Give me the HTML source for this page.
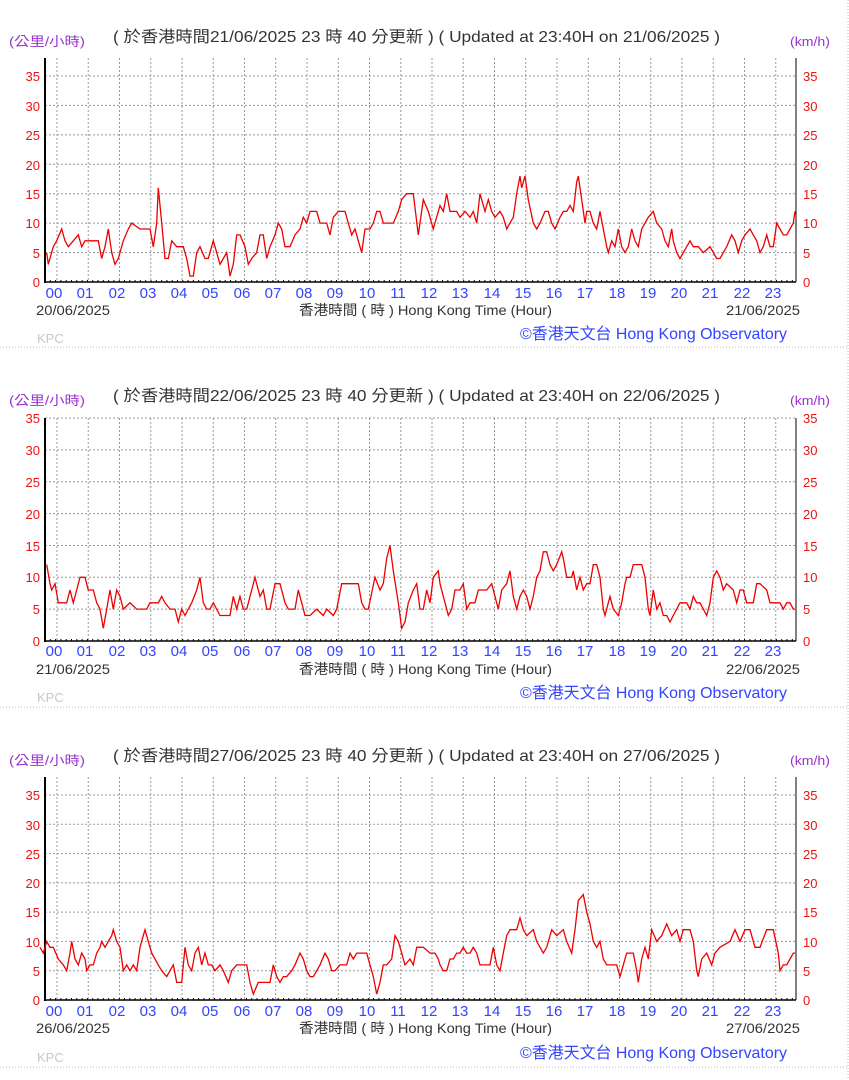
<!DOCTYPE html>
<html><head><meta charset="utf-8"><style>
html,body{margin:0;padding:0;background:#fff;width:849px;height:1080px;overflow:hidden}
svg{position:absolute;left:0;top:0}
text{font-family:"Liberation Sans","Noto Sans CJK TC",sans-serif}
.t{font-size:16px;fill:#333}
.u{font-size:13px;fill:#9933cc}
.yl{font-size:13px;fill:#ee1111}
.hl{font-size:15px;fill:#3344ff}
.d{font-size:14px;fill:#333}
.o{font-size:16px;fill:#3344ff}
.k{font-size:13px;fill:#c8c8c8}
</style></head><body>
<svg id="s" width="849" height="1080" xmlns="http://www.w3.org/2000/svg">
<g id="g"></g>
<!-- Panel 1 -->
<text class="u" x="9" y="46" textLength="76" lengthAdjust="spacingAndGlyphs">(公里/小時)</text>
<text class="t" x="113" y="42" textLength="607" lengthAdjust="spacingAndGlyphs">( 於香港時間21/06/2025 23 時 40 分更新 ) ( Updated at 23:40H on 21/06/2025 )</text>
<text class="u" x="790" y="46" textLength="40" lengthAdjust="spacingAndGlyphs">(km/h)</text>
<g class="yl" text-anchor="end"><text x="40" y="287">0</text><text x="40" y="258">5</text><text x="40" y="228">10</text><text x="40" y="199">15</text><text x="40" y="170">20</text><text x="40" y="140">25</text><text x="40" y="111">30</text><text x="40" y="81">35</text></g>
<g class="yl"><text x="803" y="287">0</text><text x="803" y="258">5</text><text x="803" y="228">10</text><text x="803" y="199">15</text><text x="803" y="170">20</text><text x="803" y="140">25</text><text x="803" y="111">30</text><text x="803" y="81">35</text></g>
<g class="hl" text-anchor="middle"><text x="54" y="298">00</text><text x="85" y="298">01</text><text x="117" y="298">02</text><text x="148" y="298">03</text><text x="179" y="298">04</text><text x="210" y="298">05</text><text x="242" y="298">06</text><text x="273" y="298">07</text><text x="304" y="298">08</text><text x="335" y="298">09</text><text x="367" y="298">10</text><text x="398" y="298">11</text><text x="429" y="298">12</text><text x="460" y="298">13</text><text x="492" y="298">14</text><text x="523" y="298">15</text><text x="554" y="298">16</text><text x="585" y="298">17</text><text x="617" y="298">18</text><text x="648" y="298">19</text><text x="679" y="298">20</text><text x="710" y="298">21</text><text x="742" y="298">22</text><text x="773" y="298">23</text></g>
<text class="d" x="36" y="315" textLength="74" lengthAdjust="spacingAndGlyphs">20/06/2025</text>
<text class="d" x="299" y="315" textLength="253" lengthAdjust="spacingAndGlyphs">香港時間 ( 時 ) Hong Kong Time (Hour)</text>
<text class="d" x="726" y="315" textLength="74" lengthAdjust="spacingAndGlyphs">21/06/2025</text>
<text class="o" x="520" y="339" textLength="267" lengthAdjust="spacingAndGlyphs">©香港天文台 Hong Kong Observatory</text>
<text class="k" x="37" y="343">KPC</text>
<!-- Panel 2 -->
<text class="u" x="9" y="405" textLength="76" lengthAdjust="spacingAndGlyphs">(公里/小時)</text>
<text class="t" x="113" y="401" textLength="607" lengthAdjust="spacingAndGlyphs">( 於香港時間22/06/2025 23 時 40 分更新 ) ( Updated at 23:40H on 22/06/2025 )</text>
<text class="u" x="790" y="405" textLength="40" lengthAdjust="spacingAndGlyphs">(km/h)</text>
<g class="yl" text-anchor="end"><text x="40" y="646">0</text><text x="40" y="614">5</text><text x="40" y="582">10</text><text x="40" y="551">15</text><text x="40" y="519">20</text><text x="40" y="487">25</text><text x="40" y="455">30</text><text x="40" y="423">35</text></g>
<g class="yl"><text x="803" y="646">0</text><text x="803" y="614">5</text><text x="803" y="582">10</text><text x="803" y="551">15</text><text x="803" y="519">20</text><text x="803" y="487">25</text><text x="803" y="455">30</text><text x="803" y="423">35</text></g>
<g class="hl" text-anchor="middle"><text x="54" y="656">00</text><text x="85" y="656">01</text><text x="117" y="656">02</text><text x="148" y="656">03</text><text x="179" y="656">04</text><text x="210" y="656">05</text><text x="242" y="656">06</text><text x="273" y="656">07</text><text x="304" y="656">08</text><text x="335" y="656">09</text><text x="367" y="656">10</text><text x="398" y="656">11</text><text x="429" y="656">12</text><text x="460" y="656">13</text><text x="492" y="656">14</text><text x="523" y="656">15</text><text x="554" y="656">16</text><text x="585" y="656">17</text><text x="617" y="656">18</text><text x="648" y="656">19</text><text x="679" y="656">20</text><text x="710" y="656">21</text><text x="742" y="656">22</text><text x="773" y="656">23</text></g>
<text class="d" x="36" y="674" textLength="74" lengthAdjust="spacingAndGlyphs">21/06/2025</text>
<text class="d" x="299" y="674" textLength="253" lengthAdjust="spacingAndGlyphs">香港時間 ( 時 ) Hong Kong Time (Hour)</text>
<text class="d" x="726" y="674" textLength="74" lengthAdjust="spacingAndGlyphs">22/06/2025</text>
<text class="o" x="520" y="698" textLength="267" lengthAdjust="spacingAndGlyphs">©香港天文台 Hong Kong Observatory</text>
<text class="k" x="37" y="702">KPC</text>
<!-- Panel 3 -->
<text class="u" x="9" y="765" textLength="76" lengthAdjust="spacingAndGlyphs">(公里/小時)</text>
<text class="t" x="113" y="761" textLength="607" lengthAdjust="spacingAndGlyphs">( 於香港時間27/06/2025 23 時 40 分更新 ) ( Updated at 23:40H on 27/06/2025 )</text>
<text class="u" x="790" y="765" textLength="40" lengthAdjust="spacingAndGlyphs">(km/h)</text>
<g class="yl" text-anchor="end"><text x="40" y="1005">0</text><text x="40" y="976">5</text><text x="40" y="947">10</text><text x="40" y="917">15</text><text x="40" y="888">20</text><text x="40" y="859">25</text><text x="40" y="830">30</text><text x="40" y="800">35</text></g>
<g class="yl"><text x="803" y="1005">0</text><text x="803" y="976">5</text><text x="803" y="947">10</text><text x="803" y="917">15</text><text x="803" y="888">20</text><text x="803" y="859">25</text><text x="803" y="830">30</text><text x="803" y="800">35</text></g>
<g class="hl" text-anchor="middle"><text x="54" y="1016">00</text><text x="85" y="1016">01</text><text x="117" y="1016">02</text><text x="148" y="1016">03</text><text x="179" y="1016">04</text><text x="210" y="1016">05</text><text x="242" y="1016">06</text><text x="273" y="1016">07</text><text x="304" y="1016">08</text><text x="335" y="1016">09</text><text x="367" y="1016">10</text><text x="398" y="1016">11</text><text x="429" y="1016">12</text><text x="460" y="1016">13</text><text x="492" y="1016">14</text><text x="523" y="1016">15</text><text x="554" y="1016">16</text><text x="585" y="1016">17</text><text x="617" y="1016">18</text><text x="648" y="1016">19</text><text x="679" y="1016">20</text><text x="710" y="1016">21</text><text x="742" y="1016">22</text><text x="773" y="1016">23</text></g>
<text class="d" x="36" y="1033" textLength="74" lengthAdjust="spacingAndGlyphs">26/06/2025</text>
<text class="d" x="299" y="1033" textLength="253" lengthAdjust="spacingAndGlyphs">香港時間 ( 時 ) Hong Kong Time (Hour)</text>
<text class="d" x="726" y="1033" textLength="74" lengthAdjust="spacingAndGlyphs">27/06/2025</text>
<text class="o" x="520" y="1058" textLength="267" lengthAdjust="spacingAndGlyphs">©香港天文台 Hong Kong Observatory</text>
<text class="k" x="37" y="1062">KPC</text>
</svg>
<script>
var NS="http://www.w3.org/2000/svg",G=document.getElementById("g");
function el(n,a){var e=document.createElementNS(NS,n);for(var k in a)e.setAttribute(k,a[k]);G.appendChild(e);return e;}
function parse(s,base){return s.trim().split(/\s+/).map(function(p){var q=p.split(":");return[base+ +q[0]/3,+q[1]];});}
var P=[
{top:58,y0:282,k:5.886,a:"20:5 25:3 40:6 50:7 65:9 75:7 85:6 100:7 115:8 125:6 135:7 150:7 160:7 175:7 185:4 195:6 205:9 215:5 225:3 235:4 250:7 265:9 275:10 300:9 330:9 340:6 350:10 355:16 365:10 375:4 385:4 395:7 410:6 430:6 440:4 450:1 460:1 470:5 480:6 495:4 505:4 520:7 530:5 540:3 550:4 560:5 570:1 580:3 590:8 600:8 615:6 625:3 635:4 650:5 660:8 670:8 680:4 690:6 705:8 715:10 725:9 735:6 750:6 765:8 780:9 790:11 800:10 810:12 830:12 840:10 850:10 860:10 870:8 880:11 895:12 915:12 925:10 935:8 945:9 955:7 965:5 975:9 990:9 1000:10 1010:12 1020:12 1030:10 1045:10 1060:10 1075:12 1085:14 1100:15 1120:15 1135:8 1150:14 1165:12 1180:9 1195:12",
b:"0:13 10:14 20:12 40:10 50:12 60:13 70:12 80:15 90:12 110:12 120:11 135:12 150:11 160:12 170:10 180:15 195:12 205:14 215:12 225:11 240:12 250:11 260:9 270:10 280:11 290:15 300:18 305:16 315:18 325:14 340:10 350:9 360:10 375:12 385:12 395:10 405:9 420:11 430:12 440:12 450:13 460:12 470:17 475:18 485:14 495:10 500:12 510:12 520:10 530:9 540:12 550:9 560:6 565:5 575:7 585:6 595:9 605:6 615:5 625:6 635:9 645:7 655:6 665:9 675:10 685:11 700:12 710:10 725:9 735:7 745:6 755:9 760:7 770:5 780:4 790:5 800:6 810:7 820:6 835:6 850:5 870:6 880:5 890:4 900:4 910:5 920:6 935:8 945:7 955:5 965:7 975:8 990:9 1000:8 1010:7 1020:5 1030:6 1040:8 1050:6 1060:6 1070:10 1080:9 1090:8 1100:8 1110:9 1120:10 1125:12"},
{top:418,y0:641,k:6.37,a:"20:12 30:9 35:8 45:9 55:6 80:6 90:8 100:6 110:8 120:10 135:10 145:8 160:8 170:6 180:5 190:2 200:5 210:8 220:5 230:8 240:7 250:5 270:6 290:5 320:5 330:6 355:6 365:7 375:6 390:5 405:5 415:3 425:5 435:4 445:5 455:6 470:8 480:10 490:6 500:5 510:5 520:6 540:4 570:4 580:7 590:5 600:7 610:5 620:5 635:8 645:10 660:7 670:8 680:5 690:5 705:9 720:9 735:6 745:5 765:5 775:8 785:6 795:4 810:4 830:5 850:4 860:5 880:4 890:5 905:9 930:9 955:9 965:6 975:5 985:5 1005:10 1020:8 1030:9 1040:13 1050:15 1060:11 1075:6 1085:2 1095:3 1105:6 1120:8 1130:9 1140:5 1150:5 1160:8 1170:6 1180:10 1195:11",
b:"0:5 10:8 20:9 30:6 40:8 50:10 55:11 60:9 70:7 80:5 85:4 95:5 105:8 120:8 130:9 140:5 150:6 165:6 175:8 200:8 215:9 225:7 235:5 245:8 260:9 270:11 280:7 290:5 300:7 310:8 320:7 330:5 340:7 350:10 360:11 370:14 380:14 390:12 400:11 410:12 425:14 430:13 440:10 455:10 460:11 470:8 480:10 490:8 500:9 510:9 520:12 530:12 540:10 550:5 555:4 565:6 570:7 580:5 595:4 605:6 615:9 620:10 630:10 640:12 665:12 675:10 685:5 690:4 700:8 710:5 720:6 730:4 740:4 750:3 760:4 770:5 780:6 800:6 810:5 820:7 830:6 840:6 850:5 860:4 870:6 880:10 890:11 900:10 910:8 920:9 940:8 950:6 960:8 970:8 980:6 1000:6 1010:9 1020:9 1040:8 1050:6 1080:6 1090:5 1100:6 1110:6 1120:5 1125:5"},
{top:777,y0:1000,k:5.857,a:"0:9 10:8 20:10 30:9 40:9 55:7 70:6 80:5 90:8 95:10 105:7 115:6 125:8 135:7 140:5 150:6 160:6 170:8 180:9 185:10 195:9 205:10 215:11 220:12 230:10 240:9 250:5 260:6 270:5 280:6 290:5 300:9 310:11 315:12 325:10 335:8 345:7 355:6 365:5 380:4 390:5 400:6 410:3 425:3 435:9 445:6 455:5 465:8 475:9 485:6 495:8 505:6 515:6 525:5 540:6 550:5 565:3 575:5 590:6 620:6 630:3 640:1 655:3 690:3 700:6 710:4 720:3 730:4 740:4 755:5 765:6 780:8 790:7 800:5 810:4 820:4 830:5 840:6 855:8 865:7 875:5 885:5 900:6 920:6 930:8 940:7 950:8 960:8 980:8 990:6 1000:4 1010:1 1020:3 1030:6 1040:6 1055:7 1065:11 1075:10 1085:8 1095:6 1110:7 1120:6 1130:9 1150:9 1170:8 1185:8 1195:7",
b:"0:9 10:8 30:8 40:6 50:8 60:6 70:5 80:5 90:7 100:7 110:8 120:8 130:9 140:8 150:8 160:9 170:8 180:6 210:6 220:9 230:6 240:5 250:8 260:11 270:12 290:12 300:14 310:12 320:11 340:12 350:10 360:9 370:8 380:9 395:12 410:11 430:12 440:10 455:8 465:12 475:17 490:18 500:15 510:13 520:10 530:9 540:10 550:7 560:6 590:6 600:4 610:6 620:8 640:8 650:5 655:3 665:7 675:9 685:7 695:12 710:10 725:11 740:13 755:11 770:12 780:10 790:12 810:12 820:10 830:5 835:4 845:7 860:8 875:6 885:8 900:9 930:10 945:12 960:10 975:12 990:12 1005:9 1020:9 1040:12 1060:12 1075:8 1080:5 1090:6 1100:6 1110:7 1120:8 1125:8"}];
var L=45,R=796;
P.forEach(function(p){
 for(var v=5;v<=35;v+=5){var y=p.y0-p.k*v;el("line",{x1:L,x2:R,y1:y,y2:y,stroke:"#999","stroke-width":1,"stroke-dasharray":"2,2"});}
 for(var h=0;h<24;h++){var x=57+31.25*h;el("line",{x1:x,x2:x,y1:p.top,y2:p.y0,stroke:"#999","stroke-width":1,"stroke-dasharray":"2,2"});}
 for(var m=0;m<=142;m++){var x=45+m*5.3;if(x>R)break;el("line",{x1:x,x2:x,y1:p.y0,y2:p.y0-2,stroke:"#000","stroke-width":1});}
 el("line",{x1:L,x2:L,y1:p.top,y2:p.y0+1,stroke:"#000","stroke-width":2});
 el("line",{x1:L,x2:R,y1:p.y0,y2:p.y0,stroke:"#000","stroke-width":1.5});
 el("line",{x1:R,x2:R,y1:p.top,y2:p.y0,stroke:"#000","stroke-width":1});
 var A=parse(p.a,40),B=parse(p.b,420),lx=A[A.length-1][0];
 var pts=A.concat(B.filter(function(q){return q[0]>lx;}));
 var s="";
 pts.forEach(function(q){s+=q[0].toFixed(1)+","+(p.y0-p.k*q[1]).toFixed(1)+" ";});
 el("polyline",{points:s,fill:"none",stroke:"#ee0000","stroke-width":1.3,"stroke-linejoin":"miter"});
});
[347,707].forEach(function(y){el("line",{x1:0,x2:849,y1:y,y2:y,stroke:"#bbb","stroke-width":1,"stroke-dasharray":"1,2"});});
el("line",{x1:848,x2:848,y1:0,y2:1080,stroke:"#bbb","stroke-width":1,"stroke-dasharray":"1,2"});
el("line",{x1:0,x2:849,y1:1067,y2:1067,stroke:"#bbb","stroke-width":1,"stroke-dasharray":"1,2"});
</script>
</body></html>
